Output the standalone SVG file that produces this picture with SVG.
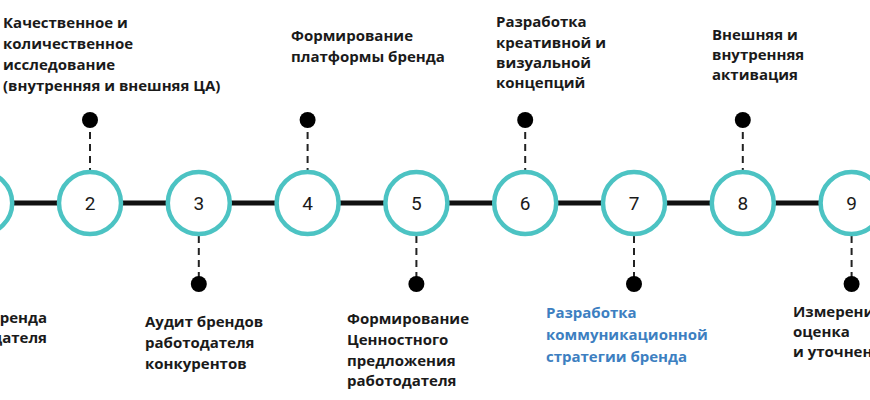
<svg xmlns="http://www.w3.org/2000/svg" width="870" height="400" viewBox="0 0 870 400">
<style>
.bg{fill:#ffffff}
.axis{stroke:#111;stroke-width:5}
.ring{fill:#fff;stroke:#4cc3c3;stroke-width:4.5}
.num{font-family:Roboto,"Liberation Sans",sans-serif;font-size:19px;fill:#1a1a1a;text-anchor:middle}
.lbl{font-family:"Open Sans","Liberation Sans",sans-serif;font-size:15px;font-weight:bold;fill:#1a1a1a}
.blue{fill:#3d7fc1}
.dash{stroke:#222;stroke-width:2;stroke-dasharray:7 5}
.dot{fill:#000}
</style>
<rect class="bg" width="870" height="400"/>
<g id="connectors">
<line class="axis" x1="0" y1="203" x2="870" y2="203"/>
<line class="dash" x1="90" y1="120" x2="90" y2="171"/>
<line class="dash" x1="307.6" y1="120" x2="307.6" y2="171"/>
<line class="dash" x1="525.2" y1="120" x2="525.2" y2="171"/>
<line class="dash" x1="742.8" y1="120" x2="742.8" y2="171"/>
<line class="dash" x1="198.8" y1="236" x2="198.8" y2="283"/>
<line class="dash" x1="416.4" y1="236" x2="416.4" y2="283"/>
<line class="dash" x1="634" y1="236" x2="634" y2="283"/>
<line class="dash" x1="851.6" y1="236" x2="851.6" y2="283"/>
</g>
<g id="node1">
<circle class="ring" cx="-18.8" cy="203" r="31"/>
<text class="lbl" text-anchor="end"><tspan x="47" y="323">ренда</tspan><tspan x="47" y="343">дателя</tspan></text>
</g>
<g id="node2">
<circle class="ring" cx="90" cy="203" r="31"/>
<text class="num" x="90" y="210">2</text>
<circle class="dot" cx="90" cy="120" r="8"/>
<text class="lbl"><tspan x="3" y="28">Качественное и</tspan><tspan x="3" y="49">количественное</tspan><tspan x="3" y="70">исследование</tspan><tspan x="3" y="91">(внутренняя и внешняя ЦА)</tspan></text>
</g>
<g id="node3">
<circle class="ring" cx="198.8" cy="203" r="31"/>
<text class="num" x="198.8" y="210">3</text>
<circle class="dot" cx="198.8" cy="284" r="8"/>
<text class="lbl"><tspan x="145" y="327">Аудит брендов</tspan><tspan x="145" y="348">работодателя</tspan><tspan x="145" y="369">конкурентов</tspan></text>
</g>
<g id="node4">
<circle class="ring" cx="307.6" cy="203" r="31"/>
<text class="num" x="307.6" y="210">4</text>
<circle class="dot" cx="307.6" cy="120" r="8"/>
<text class="lbl"><tspan x="291" y="41">Формирование</tspan><tspan x="291" y="62">платформы бренда</tspan></text>
</g>
<g id="node5">
<circle class="ring" cx="416.4" cy="203" r="31"/>
<text class="num" x="416.4" y="210">5</text>
<circle class="dot" cx="416.4" cy="284" r="8"/>
<text class="lbl"><tspan x="347" y="324">Формирование</tspan><tspan x="347" y="345">Ценностного</tspan><tspan x="347" y="366">предложения</tspan><tspan x="347" y="386">работодателя</tspan></text>
</g>
<g id="node6">
<circle class="ring" cx="525.2" cy="203" r="31"/>
<text class="num" x="525.2" y="210">6</text>
<circle class="dot" cx="525.2" cy="120" r="8"/>
<text class="lbl"><tspan x="496" y="27">Разработка</tspan><tspan x="496" y="48">креативной и</tspan><tspan x="496" y="68">визуальной</tspan><tspan x="496" y="88">концепций</tspan></text>
</g>
<g id="node7">
<circle class="ring" cx="634" cy="203" r="31"/>
<text class="num" x="634" y="210">7</text>
<circle class="dot" cx="634" cy="284" r="8"/>
<text class="lbl blue"><tspan x="546" y="318">Разработка</tspan><tspan x="546" y="340">коммуникационной</tspan><tspan x="546" y="362">стратегии бренда</tspan></text>
</g>
<g id="node8">
<circle class="ring" cx="742.8" cy="203" r="31"/>
<text class="num" x="742.8" y="210">8</text>
<circle class="dot" cx="742.8" cy="120" r="8"/>
<text class="lbl"><tspan x="712" y="40">Внешняя и</tspan><tspan x="712" y="60">внутренняя</tspan><tspan x="712" y="80">активация</tspan></text>
</g>
<g id="node9">
<circle class="ring" cx="851.6" cy="203" r="31"/>
<text class="num" x="851.6" y="210">9</text>
<circle class="dot" cx="851.6" cy="284" r="8"/>
<text class="lbl"><tspan x="793" y="317">Измерение,</tspan><tspan x="793" y="337">оценка</tspan><tspan x="793" y="357">и уточнение</tspan></text>
</g>
</svg>
